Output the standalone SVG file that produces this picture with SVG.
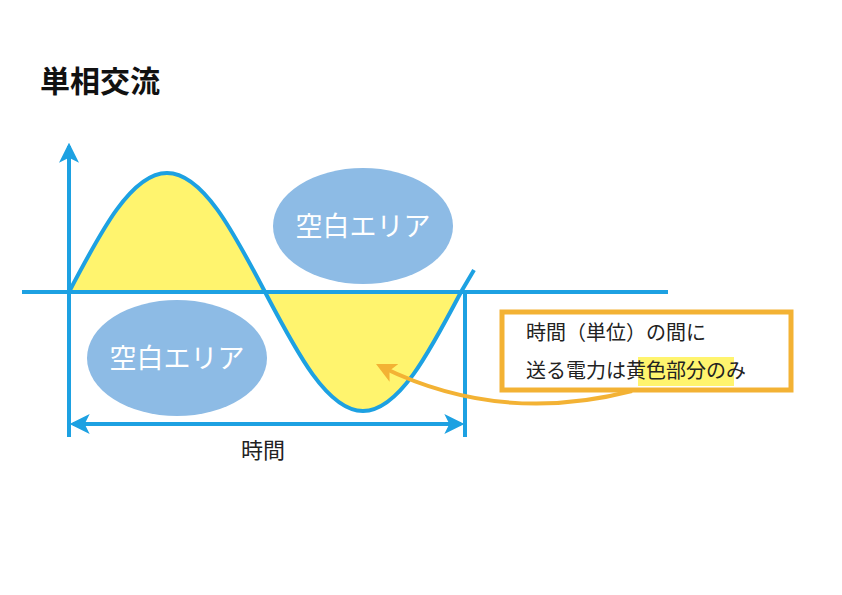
<svg xmlns="http://www.w3.org/2000/svg" width="842" height="595" viewBox="0 0 842 595">
<style>
.ax{stroke:#1da1e2;stroke-width:4;fill:none}
.t{font-family:"Noto Sans CJK JP","Noto Sans",sans-serif}
.ell{fill:#8dbbe5}
.et{font-size:27px;fill:#fff;text-anchor:middle}
</style>
<defs>
<marker id="ab" viewBox="0 0 12 12" refX="10" refY="6" markerWidth="5" markerHeight="5" orient="auto-start-reverse" markerUnits="strokeWidth"><path d="M0,0 L12,6 L0,12 L3,6 Z" fill="#1da1e2"/></marker>
<marker id="ao" viewBox="0 0 12 12" refX="8" refY="6" markerWidth="5" markerHeight="5" orient="auto"><path d="M0,0 L12,6 L0,12 L3,6 Z" fill="#f3b234"/></marker>
</defs>
<rect width="842" height="595" fill="#fff"/>
<text class="t" x="40" y="92" font-size="30" font-weight="bold" fill="#111">単相交流</text>
<g id="wave">
<path d="M69,292 C100.96,231.04 131.53,173 167,173 C202.47,173 233.04,231.04 265,292 Z" fill="#fff46e"/>
<path d="M265,292 C296.96,352.96 327.53,411 363,411 C398.47,411 429.04,352.96 461,292 Z" fill="#fff46e"/>
</g>
<g id="connectors">
<line class="ax" x1="69" y1="437" x2="69" y2="146" marker-end="url(#ab)"/>
<line class="ax" x1="22" y1="292" x2="668" y2="292"/>
<line class="ax" x1="465" y1="292" x2="465" y2="437"/>
<line class="ax" x1="73" y1="424" x2="461" y2="424" marker-start="url(#ab)" marker-end="url(#ab)"/>
<path class="ax" d="M69,292 C100.96,231.04 131.53,173 167,173 C202.47,173 233.04,231.04 265,292 C296.96,352.96 327.53,411 363,411 C398.47,411 429.04,352.96 461,292 L474,270"/>
<path d="M632,391 Q500,425 382,367" stroke="#f3b234" stroke-width="4" fill="none" marker-end="url(#ao)"/>
</g>
<g id="blank1"><ellipse class="ell" cx="363" cy="226" rx="90" ry="58"/><text class="t et" x="363" y="236">空白エリア</text></g>
<g id="blank2"><ellipse class="ell" cx="177" cy="358" rx="90" ry="58"/><text class="t et" x="177" y="368">空白エリア</text></g>
<text class="t" x="263" y="458" font-size="22" text-anchor="middle" fill="#222">時間</text>
<g id="note">
<rect x="502" y="312" width="289" height="78" fill="#fff" stroke="#f3b234" stroke-width="5"/>
<rect x="638" y="357" width="96" height="29" fill="#fff46e"/>
<text class="t" x="526" y="340" font-size="20" fill="#222">時間（単位）の間に</text>
<text class="t" x="526" y="378" font-size="20" fill="#222">送る電力は黄色部分のみ</text>
</g>
</svg>
